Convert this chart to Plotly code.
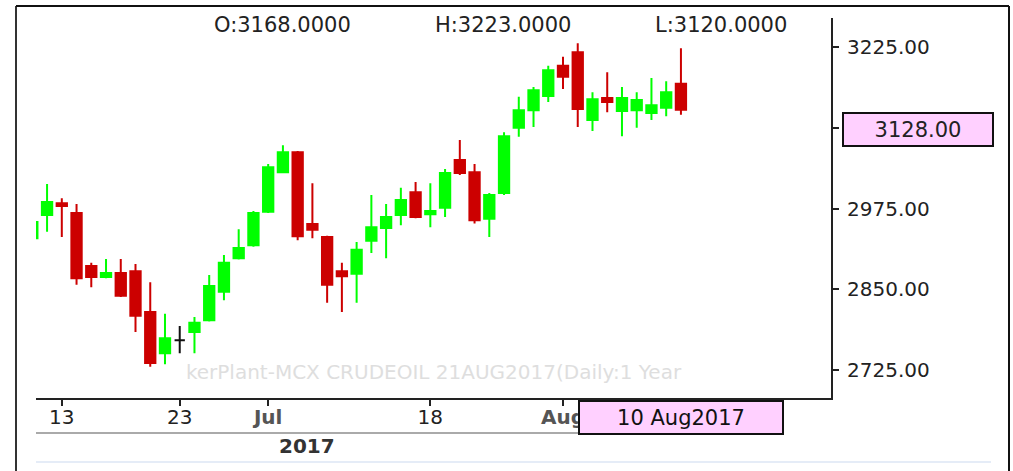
import plotly.graph_objects as go

# ---------------- data ----------------
dates = [
    "2017-06-09", "2017-06-12", "2017-06-13", "2017-06-14", "2017-06-15", "2017-06-16",
    "2017-06-19", "2017-06-20", "2017-06-21", "2017-06-22", "2017-06-23",
    "2017-06-26", "2017-06-27", "2017-06-28", "2017-06-29", "2017-06-30",
    "2017-07-03", "2017-07-04", "2017-07-05", "2017-07-06", "2017-07-07",
    "2017-07-10", "2017-07-11", "2017-07-12", "2017-07-13", "2017-07-14",
    "2017-07-17", "2017-07-18", "2017-07-19", "2017-07-20", "2017-07-21",
    "2017-07-24", "2017-07-25", "2017-07-26", "2017-07-27", "2017-07-28",
    "2017-07-31", "2017-08-01", "2017-08-02", "2017-08-03", "2017-08-04",
    "2017-08-07", "2017-08-08", "2017-08-09", "2017-08-10",
]
opens = [2929, 2965, 2983, 2968, 2886, 2869, 2875, 2878, 2815, 2751, 2771,
         2784, 2802, 2846, 2898, 2918, 2970, 3031, 3062, 2951,
         2931, 2878, 2874, 2925, 2945, 2965, 3000, 2966, 2976, 3050,
         3031, 2959, 2999, 3100, 3127, 3149, 3196, 3217, 3112, 3146,
         3126, 3127, 3123, 3131, 3168]
highs = [2958, 3013, 2991, 2982, 2891, 2897, 2897, 2889, 2861, 2812, 2793,
         2807, 2872, 2903, 2943, 2971, 3044, 3073, 3064, 3014,
         2933, 2891, 2923, 2996, 2982, 3007, 3016, 3014, 3036, 3081,
         3044, 2999, 3093, 3148, 3163, 3196, 3210, 3231, 3155, 3186,
         3163, 3155, 3177, 3172, 3223]
lows = [2925, 2939, 2931, 2857, 2853, 2867, 2838, 2784, 2730, 2734, 2751,
        2751, 2800, 2833, 2896, 2916, 2968, 3030, 2926, 2929,
        2829, 2815, 2829, 2906, 2898, 2949, 2960, 2946, 2962, 3027,
        2952, 2931, 2996, 3086, 3101, 3140, 3160, 3101, 3095, 3124,
        3087, 3100, 3112, 3118, 3120]
closes = [2954, 2985, 2979, 2867, 2869, 2875, 2840, 2809, 2736, 2774, 2771,
          2798, 2855, 2891, 2914, 2968, 3039, 3062, 2932, 2942,
          2857, 2870, 2911, 2946, 2962, 2988, 2962, 2971, 3030, 3030,
          2957, 2996, 3087, 3127, 3158, 3189, 3179, 3129, 3144, 3140,
          3146, 3143, 3135, 3155, 3128]

y_ticks = [2725, 2850, 2975, 3100, 3225]
y_tick_text = ["2725.00", "2850.00", "2975.00", "", "3225.00"]  # 3100 hidden by price box
x_tick_dates = ["2017-06-13", "2017-06-23", "2017-07-03", "2017-07-18", "2017-07-31"]
x_tick_text = ["13", "23",
               "<b><span style='color:#555555'>Jul</span></b>", "18",
               "<b><span style='color:#555555'>Aug</span></b>"]

last_open, last_high, last_low = opens[-1], highs[-1], lows[-1]
last_close = closes[-1]
last_label = "10 Aug2017"
year_label = "2017"
watermark = "kerPlant-MCX CRUDEOIL 21AUG2017(Daily:1 Year"

# ---------------- geometry helpers ----------------
W, H = 1013, 471
L, R, T, B = 36, 831, 18, 398


def px(x):
    return (x - L) / (R - L)


def py(y):
    return (B - y) / (B - T)


FONT = "DejaVu Sans"
GREEN = "#00ff00"
RED = "#cc0000"

flat = [o == c for o, c in zip(opens, closes)]


def pick(vals, keep):
    return [v if k else None for v, k in zip(vals, keep)]


main_keep = [not f for f in flat]

fig = go.Figure()
fig.add_trace(go.Candlestick(
    x=dates,
    open=pick(opens, main_keep), high=pick(highs, main_keep),
    low=pick(lows, main_keep), close=pick(closes, main_keep),
    increasing=dict(line=dict(color=GREEN, width=2), fillcolor=GREEN),
    decreasing=dict(line=dict(color=RED, width=2), fillcolor=RED),
    whiskerwidth=0, hoverinfo="skip", showlegend=False,
))
fx = [d for d, f in zip(dates, flat) if f]
fig.add_trace(go.Candlestick(
    x=fx,
    open=[v for v, f in zip(opens, flat) if f],
    high=[v for v, f in zip(highs, flat) if f],
    low=[v for v, f in zip(lows, flat) if f],
    close=[v for v, f in zip(closes, flat) if f],
    increasing=dict(line=dict(color="#111111", width=2), fillcolor="#111111"),
    decreasing=dict(line=dict(color="#111111", width=2), fillcolor="#111111"),
    whiskerwidth=0, hoverinfo="skip", showlegend=False,
))

shapes = [
    # outer frame
    dict(type="line", xref="paper", yref="paper", x0=px(16), x1=px(16), y0=py(6), y1=py(475),
         line=dict(color="#333333", width=2)),
    dict(type="line", xref="paper", yref="paper", x0=px(16), x1=px(1009), y0=py(6), y1=py(6),
         line=dict(color="#111111", width=2)),
    dict(type="line", xref="paper", yref="paper", x0=px(1009), x1=px(1009), y0=py(6), y1=py(475),
         line=dict(color="#111111", width=2)),
    # gray separator under tick labels
    dict(type="line", xref="paper", yref="paper", x0=px(36), x1=px(580), y0=py(433), y1=py(433),
         line=dict(color="#aaaaaa", width=2)),
    # light blue line at bottom
    dict(type="line", xref="paper", yref="paper", x0=px(36), x1=px(991), y0=py(462), y1=py(462),
         line=dict(color="#dde6f4", width=1.5)),
    # watermark below candles
    dict(type="rect", xref="paper", yref="paper", x0=0, x1=1, y0=py(380), y1=py(362),
         line=dict(width=0), fillcolor="rgba(0,0,0,0)", layer="below",
         label=dict(text=watermark, font=dict(family=FONT, size=20, color="#dedede"),
                    textposition="middle center")),
]

annotations = [
    dict(text=f"O:{last_open:.4f}", x=px(282), y=py(25), xref="paper", yref="paper",
         xanchor="center", yanchor="middle",
         showarrow=False, font=dict(family=FONT, size=21, color="#222222")),
    dict(text=f"H:{last_high:.4f}", x=px(503), y=py(25), xref="paper", yref="paper",
         xanchor="center", yanchor="middle",
         showarrow=False, font=dict(family=FONT, size=21, color="#222222")),
    dict(text=f"L:{last_low:.4f}", x=px(721), y=py(25), xref="paper", yref="paper",
         xanchor="center", yanchor="middle",
         showarrow=False, font=dict(family=FONT, size=21, color="#222222")),
    dict(text=f"{last_close:.2f}", x=px(842), y=py(129), xref="paper", yref="paper",
         xanchor="left", yanchor="middle", showarrow=False, width=148, height=31, borderpad=0,
         bgcolor="#ffd0ff", bordercolor="#111111", borderwidth=2,
         font=dict(family=FONT, size=21, color="#222222")),
    dict(text=last_label, x=px(681), y=py(417.5), xref="paper", yref="paper",
         xanchor="center", yanchor="middle",
         showarrow=False, width=202, height=31, borderpad=0,
         bgcolor="#ffd0ff", bordercolor="#111111", borderwidth=2,
         font=dict(family=FONT, size=21, color="#111111")),
    dict(text=f"<b>{year_label}</b>", x=px(307), y=py(446), xref="paper", yref="paper",
         xanchor="center", yanchor="middle",
         showarrow=False, font=dict(family=FONT, size=20, color="#333333")),
]

fig.update_layout(
    width=W, height=H,
    margin=dict(l=L, r=W - R, t=T, b=H - B, pad=0),
    paper_bgcolor="white", plot_bgcolor="white",
    boxgap=0.0,
    hovermode=False,
    showlegend=False,
    shapes=shapes,
    annotations=annotations,
    xaxis=dict(
        type="category", categoryorder="array", categoryarray=dates,
        range=[0.25, 54.18],
        rangeslider=dict(visible=False),
        showgrid=False, zeroline=False,
        showline=True, linecolor="#222222", linewidth=2,
        ticks="outside", ticklen=6, tickwidth=2, tickcolor="#222222",
        tickmode="array", tickvals=x_tick_dates, ticktext=x_tick_text,
        tickfont=dict(family=FONT, size=20, color="#222222"),
        ticklabelstandoff=-6,
        fixedrange=True,
    ),
    yaxis=dict(
        side="right",
        range=[2681.7, 3269.9],
        showgrid=False, zeroline=False,
        showline=True, linecolor="#222222", linewidth=2,
        ticks="outside", ticklen=6, tickwidth=2, tickcolor="#222222",
        tickmode="array", tickvals=y_ticks, ticktext=y_tick_text,
        tickfont=dict(family=FONT, size=20, color="#222222"),
        ticklabelstandoff=4,
        fixedrange=True,
    ),
)

fig.write_html(
    "out.html",
    config=dict(displayModeBar=False, staticPlot=True),
    post_script="document.body.style.margin='0px';document.body.style.overflow='hidden';",
)
